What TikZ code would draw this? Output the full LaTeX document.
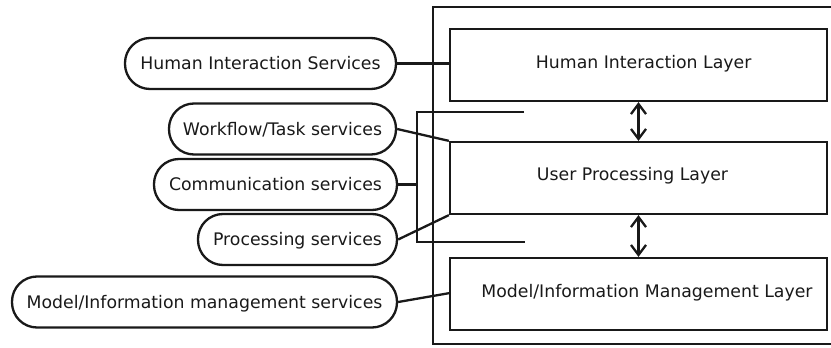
\documentclass[tikz,border=0pt]{standalone}
\usepackage{fontspec}
\setmainfont{DejaVu Sans}
\usetikzlibrary{arrows.meta}
\begin{document}
\begin{tikzpicture}[x=1pt,y=-1pt,line width=2.3pt,draw=black!90,text=black!90,
  service/.style={draw,rounded corners=25pt,minimum height=51pt,inner sep=0pt,
    text height=12.5pt,text depth=0pt,font=\fontsize{17.3}{20}\selectfont},
  layer/.style={draw,minimum width=377pt,minimum height=72pt,inner sep=0pt},
  caption/.style={anchor=base,inner sep=0pt,font=\fontsize{17.3}{20}\selectfont},
  link/.style={line cap=butt},
  flow/.style={{Straight Barb[length=10pt,width=15pt]}-{Straight Barb[length=10pt,width=15pt]}}]

\useasboundingbox (0,0) rectangle (831,348);
\clip (0,0) rectangle (831,348);

% outer frame, open to the right
\draw (845,7) -| (433,344) -- (845,344);

% layers
\node[layer] (hil) at (638.5,65) {};
\node[layer] (upl) at (638.5,178) {};
\node[layer] (mil) at (638.5,294) {};
\node[caption] (hilt) at (643.7,68) {Human Interaction Layer};
\node[caption] (uplt) at (632.5,180.7) {User Processing Layer};
\node[caption] (milt) at (647,297) {Model/Information Management Layer};

% services
\node[service,minimum width=271pt] (his) at (260.5,63.5) {Human Interaction Services};
\node[service,minimum width=227pt] (wfs) at (282.5,129) {Workflow/Task services};
\node[service,minimum width=243pt] (coms) at (275.5,184.5) {Communication services};
\node[service,minimum width=199pt] (procs) at (297.5,239.5) {Processing services};
\node[service,minimum width=385pt] (mis) at (204.5,302) {Model/Information management services};

% bracket grouping the user processing services
\coordinate (bt) at (417,112);
\coordinate (bb) at (417,242);
\coordinate (btend) at (524,112);
\coordinate (bbend) at (525,242);
\coordinate (bmid) at (417,184.5);
\draw[link] (btend) -- (bt) -- (bb) -- (bbend);

% connectors
\draw[link] (his.east) -- (his.east -| hil.west);
\draw[link] (wfs.east) -- (upl.north west);
\draw[link] (procs.east) -- (upl.south west);
\draw[link] (coms.east) -- (bmid);
\coordinate (mil-in) at (450,293);
\draw[link] (mis.east) -- (mil-in);

% data flow between layers
\draw[flow] (hil.south) -- (upl.north);
\draw[flow] (upl.south) -- (mil.north);
\end{tikzpicture}
\end{document}
